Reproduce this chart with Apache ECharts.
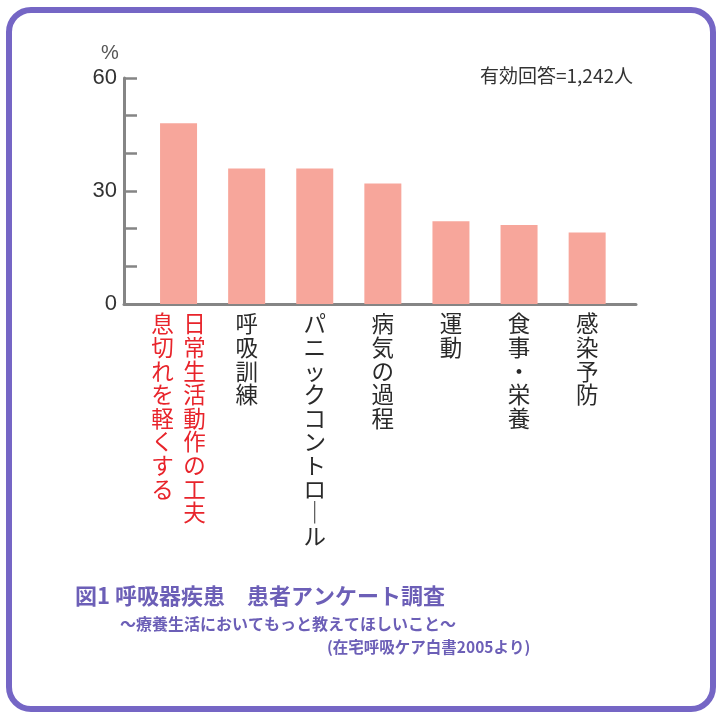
<!DOCTYPE html>
<html>
<head>
<meta charset="utf-8">
<script src="https://cdn.jsdelivr.net/npm/echarts@6/dist/echarts.min.js"></script>
<style>
html,body{margin:0;padding:0;background:#fff;}
#c{width:717px;height:713px;}
</style>
</head>
<body>
<div id="c"></div>
<script>
// ---- data ----
const categories = ['日常生活動作の工夫 息切れを軽くする', '呼吸訓練', 'パニックコントロール', '病気の過程', '運動', '食事・栄養', '感染予防'];
const values = [48, 36, 36, 32, 22, 21, 19];
const yTickLabels = [0, 30, 60];
const highlightIndex = 0;

const JP = "'Noto Sans CJK JP', 'Noto Sans', sans-serif";
const NUM = "'Liberation Sans', Arial, sans-serif";

function verticalLabel(text, idx) {
  const style = idx === highlightIndex ? 'r' : 'k';
  // columns: first segment is the right-most column (vertical writing)
  const cols = text.split(' ').map(s => Array.from(s.replace(/ー/g, '｜')));
  cols.reverse(); // left-to-right order for drawing
  const rows = Math.max(...cols.map(c => c.length));
  const lines = [];
  for (let i = 0; i < rows; i++) {
    let line = '';
    for (const c of cols) {
      line += '{' + style + '|' + (c[i] || '　') + '}';
    }
    lines.push(line);
  }
  return lines.join('\n');
}

const chart = echarts.init(document.getElementById('c'), null, {renderer: 'canvas'});
const labelStyle = {width: 32, align: 'center', fontSize: 22.5, lineHeight: 23.6, fontFamily: JP};

chart.setOption({
  animation: false,
  backgroundColor: '#ffffff',
  graphic: [{
    type: 'rect', z: -10,
    shape: {x: 9, y: 10, width: 704, height: 699, r: 22},
    style: {fill: '#ffffff', stroke: '#7566c5', lineWidth: 6}
  }],
  title: [
    {text: '%', left: 101, top: 43, padding: 0, textStyle: {fontFamily: NUM, fontSize: 20, fontWeight: 'normal', color: '#555'}},
    {text: '有効回答=1,242人', right: 84, top: 66, padding: 0, textStyle: {fontFamily: JP, fontSize: 19, fontWeight: 'normal', color: '#333'}},
    {text: '図1 呼吸器疾患　患者アンケート調査', left: 75, top: 585, padding: 0, textStyle: {fontFamily: JP, fontSize: 22, fontWeight: 'bold', color: '#6c5fb7'}},
    {text: '～療養生活においてもっと教えてほしいこと～', left: 120, top: 616, padding: 0, textStyle: {fontFamily: JP, fontSize: 16, fontWeight: 'bold', color: '#6c5fb7'}},
    {text: '(在宅呼吸ケア白書2005より)', left: 327, top: 639, padding: 0, textStyle: {fontFamily: JP, fontSize: 15.5, fontWeight: 'bold', color: '#6c5fb7'}}
  ],
  grid: [
    {left: 144.5, width: 476.7, top: 78, height: 226},
    {left: 124, width: 512, top: 78, height: 226}
  ],
  xAxis: [
    {
      type: 'category', gridIndex: 0, data: categories,
      axisLine: {show: false}, axisTick: {show: false},
      axisLabel: {
        interval: 0, margin: 8,
        formatter: (v, i) => verticalLabel(v, i),
        rich: {
          r: Object.assign({color: '#e8242b'}, labelStyle),
          k: Object.assign({color: '#2a2a2a'}, labelStyle)
        }
      }
    },
    {
      type: 'value', gridIndex: 1, min: 0, max: 1,
      axisLine: {show: true, lineStyle: {color: '#858585', width: 3}},
      axisTick: {show: false}, axisLabel: {show: false}, splitLine: {show: false}
    }
  ],
  yAxis: [
    {type: 'value', gridIndex: 0, min: 0, max: 60, show: false},
    {
      type: 'value', gridIndex: 1, min: 0, max: 60, interval: 10,
      axisLine: {show: true, lineStyle: {color: '#858585', width: 3}},
      axisTick: {show: true, inside: true, length: 13, lineStyle: {color: '#858585', width: 2.5}},
      splitLine: {show: false},
      axisLabel: {
        margin: 7, fontFamily: NUM, fontSize: 22, color: '#333',
        formatter: v => yTickLabels.indexOf(v) >= 0 ? String(v) : ''
      }
    }
  ],
  series: [{
    type: 'bar', xAxisIndex: 0, yAxisIndex: 0,
    data: values, barWidth: 37,
    itemStyle: {color: '#f7a69b'}
  }]
});
</script>
</body>
</html>
